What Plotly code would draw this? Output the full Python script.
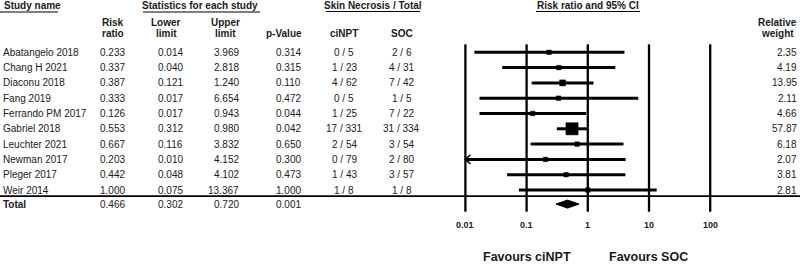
import plotly.graph_objects as go
import math

studies = ["Abatangelo 2018", "Chang H 2021", "Diaconu 2018", "Fang 2019", "Ferrando PM 2017",
           "Gabriel 2018", "Leuchter 2021", "Newman 2017", "Pleger 2017", "Weir 2014"]
risk_ratio = [0.233, 0.337, 0.387, 0.333, 0.126, 0.553, 0.667, 0.203, 0.442, 1.000]
lower = [0.014, 0.040, 0.121, 0.017, 0.017, 0.312, 0.116, 0.010, 0.048, 0.075]
upper = [3.969, 2.818, 1.240, 6.654, 0.943, 0.980, 3.832, 4.152, 4.102, 13.367]
p_value = ["0.314", "0.315", "0.110", "0.472", "0.044", "0.042", "0.650", "0.300", "0.473", "1.000"]
cinpt = ["0 / 5", "1 / 23", "4 / 62", "0 / 5", "1 / 25", "17 / 331", "2 / 54", "0 / 79", "1 / 43", "1 / 8"]
soc = ["2 / 6", "4 / 31", "7 / 42", "1 / 5", "7 / 22", "31 / 334", "3 / 54", "2 / 80", "3 / 57", "1 / 8"]
rel_weight = [2.35, 4.19, 13.95, 2.11, 4.66, 57.87, 6.18, 2.07, 3.81, 2.81]
total_rr, total_lo, total_hi, total_p = 0.466, 0.302, 0.720, "0.001"
tick_vals = [0.01, 0.1, 1, 10, 100]
tick_text = ["0.01", "0.1", "1", "10", "100"]

W, H = 800, 265
X0, DEC = 587.8, 61.2          # pixel of RR=1, pixels per decade
Y0, ROW = 52.3, 15.3           # pixel of first row, row spacing
xmin_log = -X0 / DEC
xmax_log = (W - X0) / DEC
ytop = -Y0 / ROW
ybot = (H - Y0) / ROW
AX_MIN, AX_MAX = 0.01, 100

FONT = "Liberation Sans, Arial, sans-serif"
TXT = "#1a1a1a"

def px(xp):
    return xp / W

def py(yp):
    return 1 - yp / H

fig = go.Figure()
ann = []
shapes = []

n = len(studies)
rows = list(range(n))
total_r = n - 0.08
sep_r = n - 0.6

# vertical reference lines
for t in tick_vals:
    shapes.append(dict(type="line", xref="x", yref="y", x0=t, x1=t,
                       y0=-0.52, y1=total_r + 0.5, line=dict(color="black", width=2.3)))

# separator line
shapes.append(dict(type="line", xref="paper", yref="y", x0=0, x1=1, y0=sep_r, y1=sep_r,
                   line=dict(color="black", width=1.6)))

# CI lines and markers
for i in rows:
    lo = max(lower[i], AX_MIN)
    hi = min(upper[i], AX_MAX)
    fig.add_trace(go.Scatter(x=[lo, hi], y=[i, i], mode="lines",
                             line=dict(color="black", width=3), hoverinfo="skip", showlegend=False))
    if lower[i] <= AX_MIN:
        fig.add_trace(go.Scatter(x=[AX_MIN * 10 ** (5 / DEC), AX_MIN, AX_MIN * 10 ** (5 / DEC)],
                                 y=[i - 0.3, i, i + 0.3], mode="lines",
                                 line=dict(color="black", width=1.5), hoverinfo="skip", showlegend=False))
sizes = [max(4.5, 1.6 * math.sqrt(w)) for w in rel_weight]
fig.add_trace(go.Scatter(x=risk_ratio, y=rows, mode="markers",
                         marker=dict(symbol="square", size=sizes, color="#000000", opacity=1,
                                     line=dict(width=0.5, color="#000000")),
                         opacity=1, hoverinfo="skip", showlegend=False))

# diamond
hh = 4 / ROW
fig.add_trace(go.Scatter(x=[total_lo, total_rr, total_hi, total_rr, total_lo],
                         y=[total_r, total_r - hh, total_r, total_r + hh, total_r],
                         mode="lines", fill="toself", fillcolor="black",
                         line=dict(color="black", width=1), hoverinfo="skip", showlegend=False))

def text(x, y, s, anchor="left", size=10, bold=False, yref="y"):
    if bold:
        s = "<b>" + s + "</b>"
    ann.append(dict(x=px(x), y=y, xref="paper", yref=yref, text=s, showarrow=False,
                    xanchor=anchor, yanchor="middle",
                    font=dict(family=FONT, size=size, color=TXT)))

# headers
text(2, py(6), "Study name", bold=True, yref="paper")
text(200, py(6), "Statistics for each study", anchor="center", bold=True, yref="paper")
text(373, py(6), "Skin Necrosis / Total", anchor="center", bold=True, yref="paper")
text(588, py(6), "Risk ratio and 95% CI", anchor="center", bold=True, yref="paper")
for (x0, x1, y) in [(0, 58, 12), (143, 260, 12), (326, 420, 11.5), (536, 640, 11.5)]:
    shapes.append(dict(type="line", xref="paper", yref="paper", x0=px(x0), x1=px(x1),
                       y0=py(y), y1=py(y), line=dict(color="black", width=1)))

text(113, py(23), "Risk", anchor="center", bold=True, yref="paper")
text(113, py(34), "ratio", anchor="center", bold=True, yref="paper")
text(166, py(23), "Lower", anchor="center", bold=True, yref="paper")
text(166, py(34), "limit", anchor="center", bold=True, yref="paper")
text(225, py(23), "Upper", anchor="center", bold=True, yref="paper")
text(225, py(34), "limit", anchor="center", bold=True, yref="paper")
text(284, py(34), "p-Value", anchor="center", bold=True, yref="paper")
text(344, py(34), "ciNPT", anchor="center", bold=True, yref="paper")
text(402, py(34), "SOC", anchor="center", bold=True, yref="paper")
text(777, py(23), "Relative", anchor="center", bold=True, yref="paper")
text(777, py(34), "weight", anchor="center", bold=True, yref="paper")

# rows
for i in rows:
    text(1, i, studies[i])
    text(127, i, f"{risk_ratio[i]:.3f}", anchor="right")
    text(185, i, f"{lower[i]:.3f}", anchor="right")
    text(241, i, f"{upper[i]:.3f}", anchor="right")
    text(303, i, p_value[i], anchor="right")
    text(344, i, cinpt[i], anchor="center")
    text(402, i, soc[i], anchor="center")
    text(799, i, f"{rel_weight[i]:.2f}", anchor="right")

text(1, total_r, "Total", bold=True)
text(127, total_r, f"{total_rr:.3f}", anchor="right")
text(185, total_r, f"{total_lo:.3f}", anchor="right")
text(241, total_r, f"{total_hi:.3f}", anchor="right")
text(303, total_r, total_p, anchor="right")

# tick labels
for v, t in zip(tick_vals, tick_text):
    ann.append(dict(x=math.log10(v), y=py(225), xref="x", yref="paper", text="<b>" + t + "</b>",
                    showarrow=False, xanchor="center", yanchor="middle",
                    font=dict(family=FONT, size=9, color=TXT)))

text(527, py(257), "Favours ciNPT", anchor="center", size=12.5, bold=True, yref="paper")
text(648, py(257), "Favours SOC", anchor="center", size=12.5, bold=True, yref="paper")

fig.update_layout(
    width=W, height=H, margin=dict(l=0, r=0, t=0, b=0),
    paper_bgcolor="white", plot_bgcolor="white",
    xaxis=dict(type="log", range=[xmin_log, xmax_log], visible=False, fixedrange=True),
    yaxis=dict(range=[ybot, ytop], visible=False, fixedrange=True),
    annotations=ann, shapes=shapes, showlegend=False,
)
fig.write_html("out.html", config={"displayModeBar": False},
               post_script="document.body.style.margin='0';document.body.style.overflow='hidden';")
